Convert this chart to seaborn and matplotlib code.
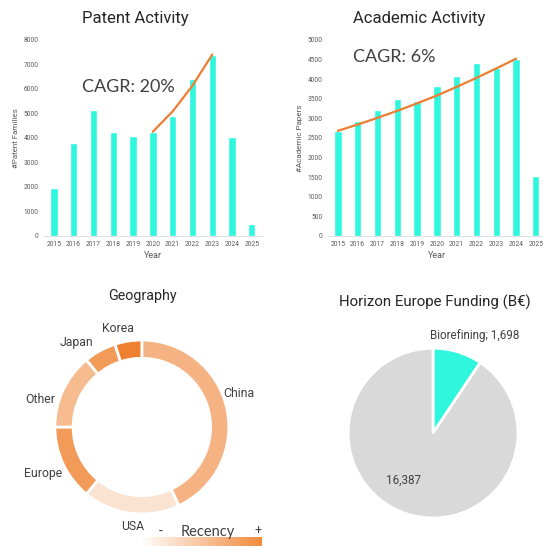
import matplotlib
matplotlib.use('Agg')
import matplotlib.pyplot as plt
import matplotlib.colors as mcolors
import numpy as np
import pandas as pd
import seaborn as sns

# data
years = [2015, 2016, 2017, 2018, 2019, 2020, 2021, 2022, 2023, 2024, 2025]
patents = [1950, 3800, 5120, 4220, 4080, 4250, 4900, 6400, 7400, 4050, 480]
papers = [2670, 2920, 3200, 3480, 3450, 3830, 4080, 4420, 4270, 4520, 1530]

patent_trend_years = [2020, 2021, 2022, 2023]
patent_trend = [4250, 5080, 6130, 7400]
paper_trend_years = [2015, 2016, 2017, 2018, 2019, 2020, 2021, 2022, 2023, 2024]
paper_trend = [2680, 2840, 3010, 3190, 3380, 3580, 3800, 4030, 4270, 4520]

geo_labels = ['China', 'USA', 'Europe', 'Other', 'Japan', 'Korea']
geo_share = [43, 18, 14, 14, 6, 5]
geo_colors = ['#F5B384', '#FBE3D2', '#F29A57', '#F6BC90', '#F29A57', '#EF8030']

fund_labels = ['Biorefining', 'Rest']
fund_values = [1698, 16387]

cyan = '#2EF7DD'
orange = '#ED7D31'
grey_txt = '#595959'

sns.set_style("white")
plt.rcParams['font.family'] = ['Roboto', 'DejaVu Sans']

fig = plt.figure(figsize=(5.43, 5.46), dpi=100)

def bar_panel(rect, vals, trend_x, trend_y, ymax, ystep, ylabel, cagr, cagr_xy):
    ax = fig.add_axes(rect)
    df = pd.DataFrame({'Year': years, 'val': vals})
    sns.barplot(data=df, x='Year', y='val', native_scale=True, width=0.37,
                color=cyan, saturation=1, ax=ax)
    sns.lineplot(x=trend_x, y=trend_y, color=orange, linewidth=1.6, ax=ax)
    ax.set_xlim(2014.5, 2025.5)
    ax.set_ylim(0, ymax)
    ax.set_xticks(years)
    ax.set_xticklabels([str(y) for y in years])
    ax.set_yticks(np.arange(0, ymax + 1, ystep))
    ax.tick_params(axis='both', labelsize=4.8, colors=grey_txt, length=0, pad=4)
    ax.set_xlabel('Year', fontsize=6.5, color=grey_txt, labelpad=2)
    ax.set_ylabel(ylabel, fontsize=5.8, color=grey_txt, labelpad=3)
    for s in ['top', 'right', 'left']:
        ax.spines[s].set_visible(False)
    ax.spines['bottom'].set_color('#D9D9D9')
    ax.spines['bottom'].set_linewidth(0.6)
    ax.text(cagr_xy[0], cagr_xy[1], cagr, fontsize=13, color='#404040',
            family=['Lato', 'DejaVu Sans'], va='center', ha='left')
    return ax

bar_panel([0.081, 0.568, 0.401, 0.359], patents, patent_trend_years, patent_trend,
          8000, 1000, '#Patent Families', 'CAGR: 20%', (2016.4, 6080))
bar_panel([0.604, 0.568, 0.401, 0.359], papers, paper_trend_years, paper_trend,
          5000, 500, '#Academic Papers', 'CAGR: 6%', (2015.75, 4560))

fig.text(0.249, 0.967, 'Patent Activity', fontsize=12, color='#262626', ha='center', va='center')
fig.text(0.772, 0.967, 'Academic Activity', fontsize=12, color='#262626', ha='center', va='center')

# Geography donut
axg = fig.add_axes([0.101, 0.0586, 0.3204, 0.3187])
wedges, texts = axg.pie(geo_share, labels=geo_labels, colors=geo_colors, startangle=90,
                        counterclock=False, radius=1,
                        wedgeprops=dict(width=0.21, edgecolor='white', linewidth=2),
                        textprops=dict(fontsize=8.8, color='#404040'))
# label placement as in the reference
label_pos = [(0.94, 0.38, 'left'), (-0.10, -1.14, 'center'), (-0.92, -0.54, 'right'),
             (-1.0, 0.32, 'right'), (-0.56, 0.97, 'right'), (-0.28, 1.13, 'center')]
for t, (lx, ly, ha) in zip(texts, label_pos):
    t.set_position((lx, ly))
    t.set_ha(ha)
    t.set_va('center')
axg.set_xlim(-1, 1)
axg.set_ylim(-1, 1)
fig.text(0.262, 0.458, 'Geography', fontsize=10.3, color='#262626', ha='center', va='center')

# Recency gradient
cmap = mcolors.LinearSegmentedColormap.from_list('rec', ['#FFFFFF', '#F08A3C'])
axc = fig.add_axes([0.258, 0.0, 0.225, 0.016])
cb = fig.colorbar(plt.cm.ScalarMappable(cmap=cmap), cax=axc, orientation='horizontal')
cb.outline.set_visible(False)
cb.set_ticks([])
fig.text(0.295, 0.026, '-', fontsize=10, color='#404040', ha='center', va='center')
fig.text(0.382, 0.026, 'Recency', fontsize=10.5, color='#404040', ha='center', va='center',
         family=['Lato', 'DejaVu Sans'])
fig.text(0.475, 0.026, '+', fontsize=9, color='#404040', ha='center', va='center')

# Horizon Europe pie
axp = fig.add_axes([0.641, 0.0513, 0.313, 0.311])
axp.pie(fund_values, colors=[cyan, '#D9D9D9'], startangle=90, counterclock=False,
        wedgeprops=dict(edgecolor='white', linewidth=2))
axp.set_xlim(-1, 1)
axp.set_ylim(-1, 1)
axp.text(0.49, 1.15, f'{fund_labels[0]}; {fund_values[0]:,}', fontsize=8.4, color='#404040',
         ha='center', va='center')
axp.text(-0.35, -0.55, f'{fund_values[1]:,}', fontsize=8.4, color='#404040',
         ha='center', va='center')
fig.text(0.801, 0.447, 'Horizon Europe Funding (B€)', fontsize=10.8, color='#262626',
         ha='center', va='center')

fig.savefig('out.png', dpi=100)
